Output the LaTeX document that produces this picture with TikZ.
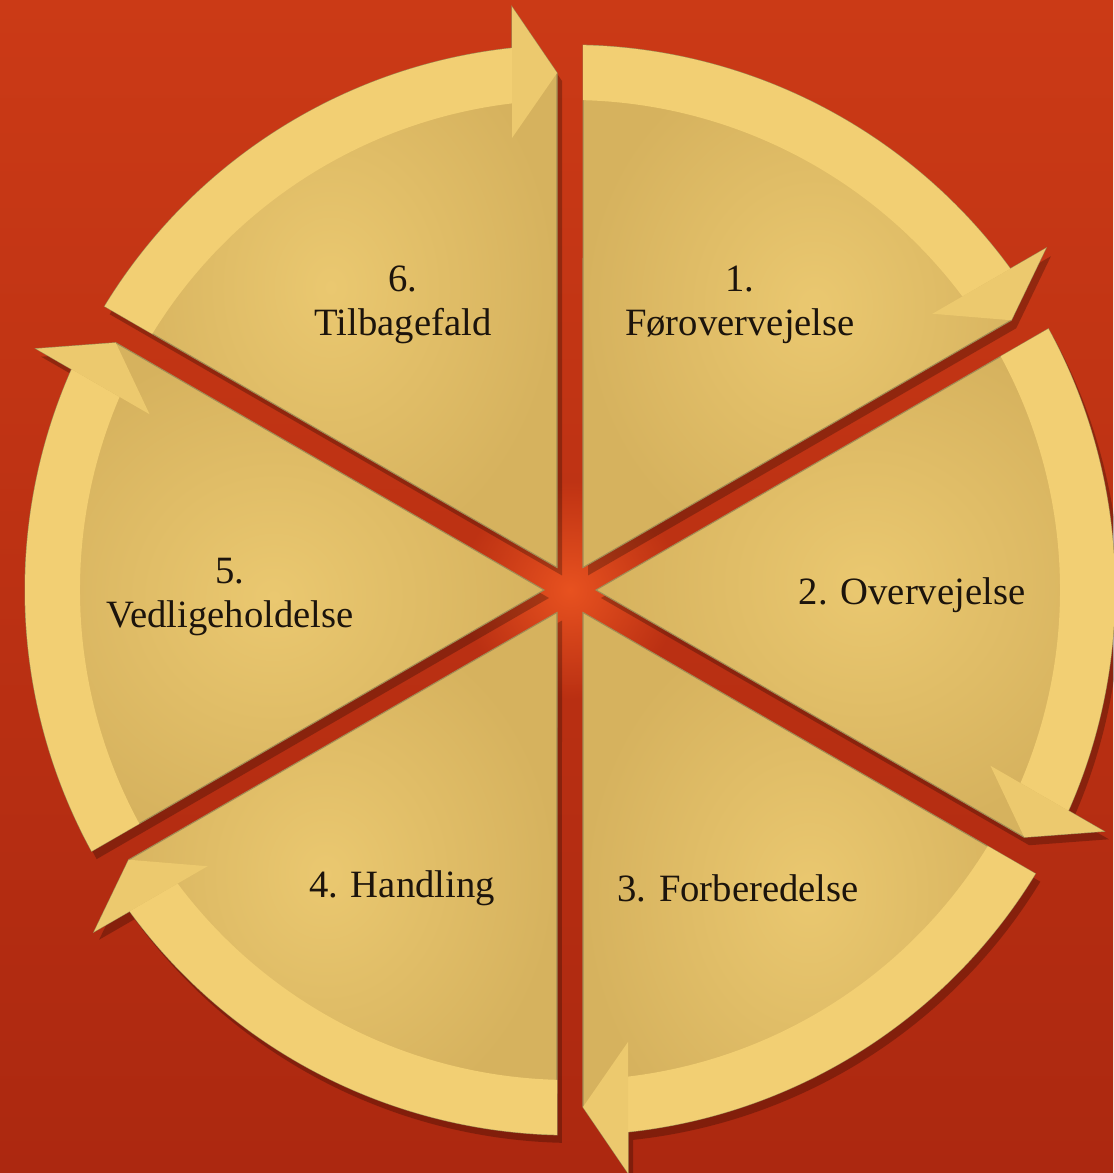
\documentclass[tikz,border=0pt]{standalone}
\usepackage{fontspec}
\setmainfont{Liberation Serif}
\usepackage{xcolor}
\usepackage{tikz}
\usetikzlibrary{fadings}

\definecolor{bgtop}{RGB}{203,58,22}
\definecolor{bgbottom}{RGB}{172,40,16}
\definecolor{glow}{RGB}{232,82,32}
\definecolor{slicelight}{RGB}{234,200,112}
\definecolor{slicedark}{RGB}{214,178,94}
\definecolor{slicerim}{RGB}{242,207,115}
\definecolor{slicetip}{RGB}{236,201,110}
\definecolor{sliceedge}{RGB}{160,140,85}
\definecolor{labeltext}{RGB}{28,20,12}
\tikzfading[name=glowfade, inner color=transparent!0, outer color=transparent!100]

\begin{document}
\begin{tikzpicture}[
  sliceshadow/.style={fill=black, opacity=0.25},
  slicebody/.style={inner color=slicelight, outer color=slicedark, draw=sliceedge, line width=0.3pt},
  sliceband/.style={fill=slicerim},
  slicehead/.style={fill=slicetip},
  stagelabel/.style={font=\fontsize{11}{12.6}\selectfont, text=labeltext, align=center}]
  \useasboundingbox (-5.70,-5.83) rectangle (5.43,5.90);
  \shade[top color=bgtop, bottom color=bgbottom] (-5.70,-5.83) rectangle (5.43,5.90);
  \fill[glow, path fading=glowfade] (0,0) circle (1.1);

  % 1. Forovervejelse
  \begin{scope}[shift={(0.05,-0.08)}, rotate=30]
    \fill[sliceshadow] (30:0.26) -- (58.63:5.45) arc[start angle=58.63, end angle=6.11, radius=5.45] -- (5.83,0.58) -- (5.17,0.13) -- cycle;
  \end{scope}
  \begin{scope}[rotate=30]
    \shade[slicebody] (30:0.26) -- (58.63:5.45) arc[start angle=58.63, end angle=6.11, radius=5.45] -- (5.83,0.58) -- (5.17,0.13) -- cycle;
    \fill[sliceband] (58.48:4.9) -- (58.63:5.45) arc[start angle=58.63, end angle=6.11, radius=5.45] -- (4.866,0.58) arc[start angle=6.8, end angle=58.48, radius=4.9] -- cycle;
    \fill[slicehead] (4.52,0.58) -- (5.83,0.58) -- (5.17,0.13) -- cycle;
  \end{scope}

  % 2. Overvejelse
  \begin{scope}[shift={(0.05,-0.08)}, rotate=-30]
    \fill[sliceshadow] (30:0.26) -- (58.63:5.45) arc[start angle=58.63, end angle=6.11, radius=5.45] -- (5.83,0.58) -- (5.17,0.13) -- cycle;
  \end{scope}
  \begin{scope}[rotate=-30]
    \shade[slicebody] (30:0.26) -- (58.63:5.45) arc[start angle=58.63, end angle=6.11, radius=5.45] -- (5.83,0.58) -- (5.17,0.13) -- cycle;
    \fill[sliceband] (58.48:4.9) -- (58.63:5.45) arc[start angle=58.63, end angle=6.11, radius=5.45] -- (4.866,0.58) arc[start angle=6.8, end angle=58.48, radius=4.9] -- cycle;
    \fill[slicehead] (4.52,0.58) -- (5.83,0.58) -- (5.17,0.13) -- cycle;
  \end{scope}

  % 3. Forberedelse
  \begin{scope}[shift={(0.05,-0.08)}, rotate=-90]
    \fill[sliceshadow] (30:0.26) -- (58.63:5.45) arc[start angle=58.63, end angle=6.11, radius=5.45] -- (5.83,0.58) -- (5.17,0.13) -- cycle;
  \end{scope}
  \begin{scope}[rotate=-90]
    \shade[slicebody] (30:0.26) -- (58.63:5.45) arc[start angle=58.63, end angle=6.11, radius=5.45] -- (5.83,0.58) -- (5.17,0.13) -- cycle;
    \fill[sliceband] (58.48:4.9) -- (58.63:5.45) arc[start angle=58.63, end angle=6.11, radius=5.45] -- (4.866,0.58) arc[start angle=6.8, end angle=58.48, radius=4.9] -- cycle;
    \fill[slicehead] (4.52,0.58) -- (5.83,0.58) -- (5.17,0.13) -- cycle;
  \end{scope}

  % 4. Handling
  \begin{scope}[shift={(0.05,-0.08)}, rotate=-150]
    \fill[sliceshadow] (30:0.26) -- (58.63:5.45) arc[start angle=58.63, end angle=6.11, radius=5.45] -- (5.83,0.58) -- (5.17,0.13) -- cycle;
  \end{scope}
  \begin{scope}[rotate=-150]
    \shade[slicebody] (30:0.26) -- (58.63:5.45) arc[start angle=58.63, end angle=6.11, radius=5.45] -- (5.83,0.58) -- (5.17,0.13) -- cycle;
    \fill[sliceband] (58.48:4.9) -- (58.63:5.45) arc[start angle=58.63, end angle=6.11, radius=5.45] -- (4.866,0.58) arc[start angle=6.8, end angle=58.48, radius=4.9] -- cycle;
    \fill[slicehead] (4.52,0.58) -- (5.83,0.58) -- (5.17,0.13) -- cycle;
  \end{scope}

  % 5. Vedligeholdelse
  \begin{scope}[shift={(0.05,-0.08)}, rotate=150]
    \fill[sliceshadow] (30:0.26) -- (58.63:5.45) arc[start angle=58.63, end angle=6.11, radius=5.45] -- (5.83,0.58) -- (5.17,0.13) -- cycle;
  \end{scope}
  \begin{scope}[rotate=150]
    \shade[slicebody] (30:0.26) -- (58.63:5.45) arc[start angle=58.63, end angle=6.11, radius=5.45] -- (5.83,0.58) -- (5.17,0.13) -- cycle;
    \fill[sliceband] (58.48:4.9) -- (58.63:5.45) arc[start angle=58.63, end angle=6.11, radius=5.45] -- (4.866,0.58) arc[start angle=6.8, end angle=58.48, radius=4.9] -- cycle;
    \fill[slicehead] (4.52,0.58) -- (5.83,0.58) -- (5.17,0.13) -- cycle;
  \end{scope}

  % 6. Tilbagefald
  \begin{scope}[shift={(0.05,-0.08)}, rotate=90]
    \fill[sliceshadow] (30:0.26) -- (58.63:5.45) arc[start angle=58.63, end angle=6.11, radius=5.45] -- (5.83,0.58) -- (5.17,0.13) -- cycle;
  \end{scope}
  \begin{scope}[rotate=90]
    \shade[slicebody] (30:0.26) -- (58.63:5.45) arc[start angle=58.63, end angle=6.11, radius=5.45] -- (5.83,0.58) -- (5.17,0.13) -- cycle;
    \fill[sliceband] (58.48:4.9) -- (58.63:5.45) arc[start angle=58.63, end angle=6.11, radius=5.45] -- (4.866,0.58) arc[start angle=6.8, end angle=58.48, radius=4.9] -- cycle;
    \fill[slicehead] (4.52,0.58) -- (5.83,0.58) -- (5.17,0.13) -- cycle;
  \end{scope}

  \node[stagelabel] (forover) at (1.70,2.85) {1.\\Førovervejelse};
  \node[stagelabel] (overvej) at (3.42,-0.05) {2. Overvejelse};
  \node[stagelabel] (forbered) at (1.68,-2.98) {3. Forberedelse};
  \node[stagelabel] (handling) at (-1.68,-2.98) {4. Handling};
  \node[stagelabel] (vedlige) at (-3.40,-0.07) {5.\\Vedligeholdelse};
  \node[stagelabel] (tilbage) at (-1.67,2.85) {6.\\Tilbagefald};
\end{tikzpicture}
\end{document}
